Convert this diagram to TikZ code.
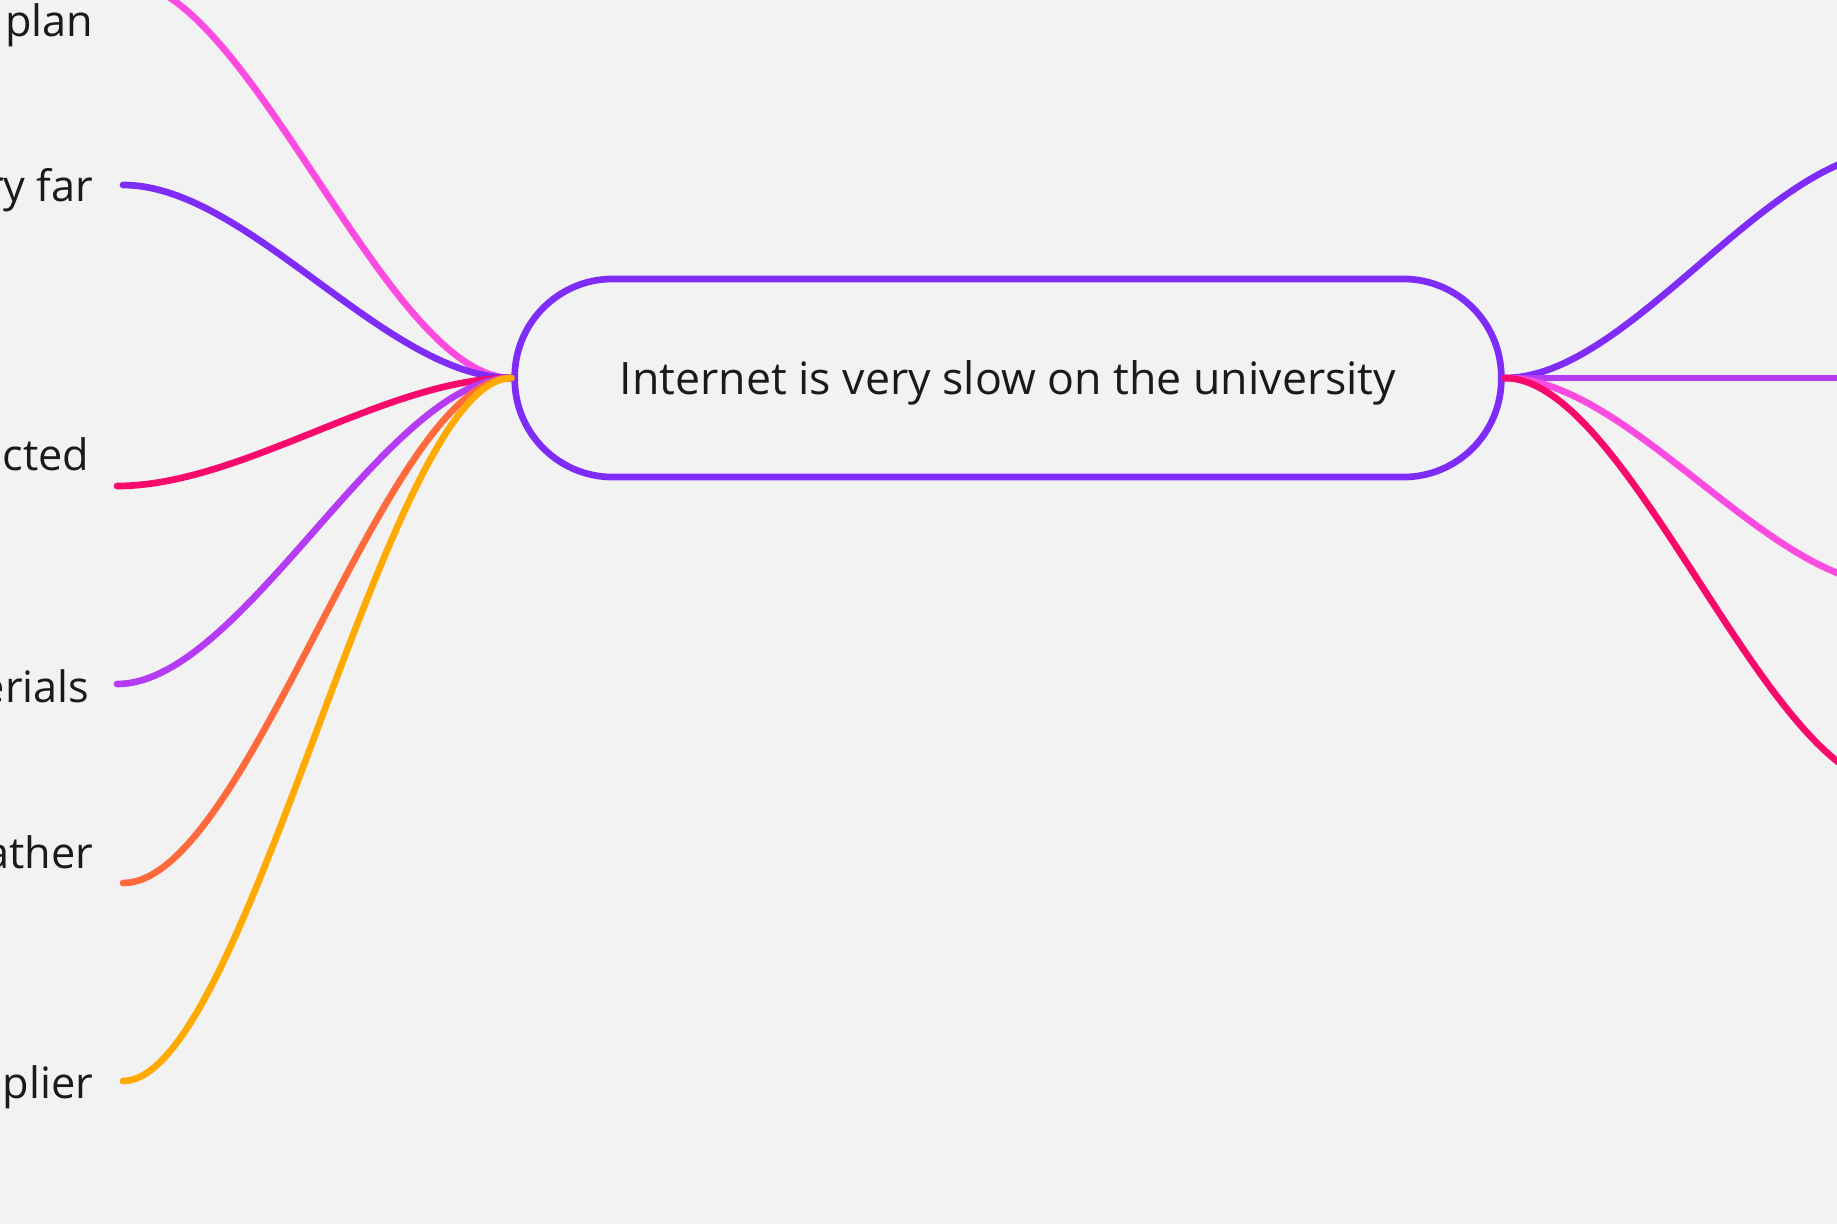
\documentclass[tikz,border=0pt]{standalone}
\usepackage{fontspec}
\setmainfont{Open Sans}
\definecolor{bgcol}{HTML}{F2F2F2}
\definecolor{textdark}{HTML}{1A1A1A}
\definecolor{mmpurple}{HTML}{7F2CF9}
\definecolor{mmviolet}{HTML}{B63BF5}
\definecolor{mmpink}{HTML}{FB4BE0}
\definecolor{mmred}{HTML}{F80A6C}
\definecolor{mmorange}{HTML}{FF6A3D}
\definecolor{mmyellow}{HTML}{FFAA00}
\begin{document}
\begin{tikzpicture}[x=0.01cm, y=-0.01cm, line cap=round,
    branch/.style={line width=1.9pt},
    leaf/.style={anchor=base east, inner sep=0pt, text=textdark, font=\fontsize{12.3}{15}\selectfont}]
    \fill[bgcol] (0,0) rectangle (1837,1224);
    \useasboundingbox (0,0) rectangle (1837,1224);

    % 中心节点
    \node[draw=mmpurple, line width=1.9pt, rounded corners=0.98cm, fill=bgcol,
          minimum width=9.86cm, minimum height=1.98cm, text=textdark, text depth=0pt,
          font=\fontsize{12.7}{15}\selectfont] (root) at (1008,378)
        {Internet is very slow on the university};

    % 左侧分支
    \node[leaf] (plan) at (94,36) {plan};
    \node[leaf] (far) at (94,201) {ry far};
    \node[leaf] (cted) at (90,470) {cted};
    \node[leaf] (erials) at (90,702) {erials};
    \node[leaf] (ather) at (94,868) {ather};
    \node[leaf] (plier) at (94,1098) {pplier};
    \coordinate (e1) at (123,-19);
    \coordinate (e2) at (123,185);
    \coordinate (e3) at (117,486);
    \coordinate (e4) at (117,684);
    \coordinate (e5) at (123,883);
    \coordinate (e6) at (123,1081);
    \draw[branch, mmpink] (root.west) .. controls +(-125,0) and +(125,0) .. (e1);
    \draw[branch, mmpurple] (root.west) .. controls +(-125,0) and +(125,0) .. (e2);
    \draw[branch, mmred] (root.west) .. controls +(-125,0) and +(125,0) .. (e3);
    \draw[branch, mmviolet] (root.west) .. controls +(-125,0) and +(125,0) .. (e4);
    \draw[branch, mmorange] (root.west) .. controls +(-125,0) and +(125,0) .. (e5);
    \draw[branch, mmyellow] (root.west) .. controls +(-125,0) and +(125,0) .. (e6);

    % 右侧分支
    \coordinate (w1) at (1893,152);
    \coordinate (w2) at (1893,378);
    \coordinate (w3) at (1893,585);
    \coordinate (w4) at (1893,785);
    \draw[branch, mmpurple] (root.east) .. controls +(125,0) and +(-125,0) .. (w1);
    \draw[branch, mmviolet] (root.east) -- (w2);
    \draw[branch, mmpink] (root.east) .. controls +(125,0) and +(-125,0) .. (w3);
    \draw[branch, mmred] (root.east) .. controls +(125,0) and +(-125,0) .. (w4);
\end{tikzpicture}
\end{document}
